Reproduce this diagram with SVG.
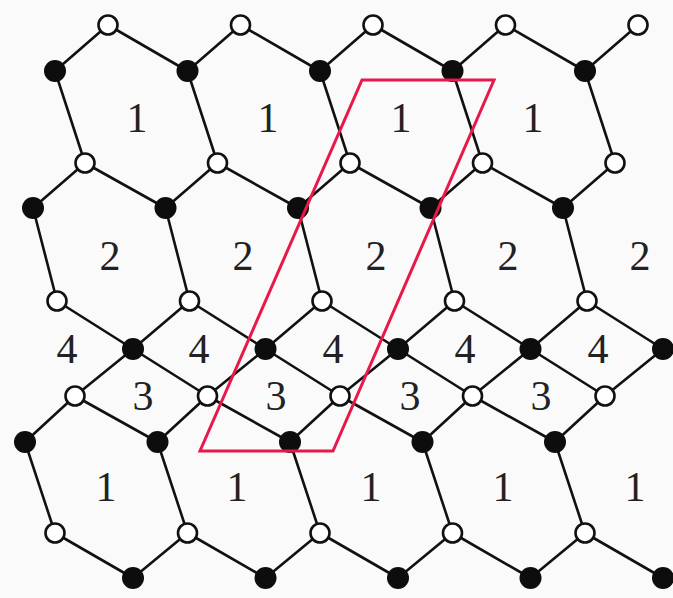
<svg xmlns="http://www.w3.org/2000/svg" width="673" height="598" viewBox="0 0 673 598">
<style>
.e{stroke:#111;stroke-width:2.6;fill:none;stroke-linecap:round}
.b{fill:#0d0d0d}
.w{fill:#fff;stroke:#111;stroke-width:2.6}
.t{font-family:"Liberation Serif","Times New Roman",serif;font-size:42px;fill:#222;text-anchor:middle}
.cell{fill:none;stroke:#e8184a;stroke-width:3;stroke-linejoin:miter}
</style>
<rect width="673" height="598" fill="#fafafa"/>
<g id="connectors" class="e">
<path d="M108 25L55 71M108 25L187.5 71M240.5 25L187.5 71M240.5 25L320 71M373 25L320 71M373 25L452.5 71M505.5 25L452.5 71M505.5 25L585 71M638 25L585 71"/>
<path d="M55 71L85 163M187.5 71L217.5 163M320 71L350 163M452.5 71L482.5 163M585 71L615 163"/>
<path d="M85 163L33 208M85 163L165.5 208M217.5 163L165.5 208M217.5 163L298 208M350 163L298 208M350 163L430.5 208M482.5 163L430.5 208M482.5 163L563 208M615 163L563 208"/>
<path d="M33 208L57 301M165.5 208L189.5 301M298 208L322 301M430.5 208L454.5 301M563 208L587 301"/>
<path d="M57 301L133 349M189.5 301L133 349M189.5 301L265.5 349M322 301L265.5 349M322 301L398 349M454.5 301L398 349M454.5 301L530.5 349M587 301L530.5 349M587 301L663 349"/>
<path d="M133 349L75 396M133 349L207.5 396M265.5 349L207.5 396M265.5 349L340 396M398 349L340 396M398 349L472.5 396M530.5 349L472.5 396M530.5 349L605 396M663 349L605 396"/>
<path d="M75 396L25 442M75 396L157.5 442M207.5 396L157.5 442M207.5 396L290 442M340 396L290 442M340 396L422.5 442M472.5 396L422.5 442M472.5 396L555 442M605 396L555 442"/>
<path d="M25 442L55 533M157.5 442L187.5 533M290 442L320 533M422.5 442L452.5 533M555 442L585 533"/>
<path d="M55 533L133 578M187.5 533L133 578M187.5 533L265.5 578M320 533L265.5 578M320 533L398 578M452.5 533L398 578M452.5 533L530.5 578M585 533L530.5 578M585 533L663 578"/>
</g>
<g id="nodes">
<g id="w0-0"><circle class="w" cx="108" cy="25" r="9.5"/></g>
<g id="w0-1"><circle class="w" cx="240.5" cy="25" r="9.5"/></g>
<g id="w0-2"><circle class="w" cx="373" cy="25" r="9.5"/></g>
<g id="w0-3"><circle class="w" cx="505.5" cy="25" r="9.5"/></g>
<g id="w0-4"><circle class="w" cx="638" cy="25" r="9.5"/></g>
<g id="b1-0"><circle class="b" cx="55" cy="71" r="11"/></g>
<g id="b1-1"><circle class="b" cx="187.5" cy="71" r="11"/></g>
<g id="b1-2"><circle class="b" cx="320" cy="71" r="11"/></g>
<g id="b1-3"><circle class="b" cx="452.5" cy="71" r="11"/></g>
<g id="b1-4"><circle class="b" cx="585" cy="71" r="11"/></g>
<g id="w2-0"><circle class="w" cx="85" cy="163" r="9.5"/></g>
<g id="w2-1"><circle class="w" cx="217.5" cy="163" r="9.5"/></g>
<g id="w2-2"><circle class="w" cx="350" cy="163" r="9.5"/></g>
<g id="w2-3"><circle class="w" cx="482.5" cy="163" r="9.5"/></g>
<g id="w2-4"><circle class="w" cx="615" cy="163" r="9.5"/></g>
<g id="b3-0"><circle class="b" cx="33" cy="208" r="11"/></g>
<g id="b3-1"><circle class="b" cx="165.5" cy="208" r="11"/></g>
<g id="b3-2"><circle class="b" cx="298" cy="208" r="11"/></g>
<g id="b3-3"><circle class="b" cx="430.5" cy="208" r="11"/></g>
<g id="b3-4"><circle class="b" cx="563" cy="208" r="11"/></g>
<g id="w4-0"><circle class="w" cx="57" cy="301" r="9.5"/></g>
<g id="w4-1"><circle class="w" cx="189.5" cy="301" r="9.5"/></g>
<g id="w4-2"><circle class="w" cx="322" cy="301" r="9.5"/></g>
<g id="w4-3"><circle class="w" cx="454.5" cy="301" r="9.5"/></g>
<g id="w4-4"><circle class="w" cx="587" cy="301" r="9.5"/></g>
<g id="b5-0"><circle class="b" cx="133" cy="349" r="11"/></g>
<g id="b5-1"><circle class="b" cx="265.5" cy="349" r="11"/></g>
<g id="b5-2"><circle class="b" cx="398" cy="349" r="11"/></g>
<g id="b5-3"><circle class="b" cx="530.5" cy="349" r="11"/></g>
<g id="b5-4"><circle class="b" cx="663" cy="349" r="11"/></g>
<g id="w6-0"><circle class="w" cx="75" cy="396" r="9.5"/></g>
<g id="w6-1"><circle class="w" cx="207.5" cy="396" r="9.5"/></g>
<g id="w6-2"><circle class="w" cx="340" cy="396" r="9.5"/></g>
<g id="w6-3"><circle class="w" cx="472.5" cy="396" r="9.5"/></g>
<g id="w6-4"><circle class="w" cx="605" cy="396" r="9.5"/></g>
<g id="b7-0"><circle class="b" cx="25" cy="442" r="11"/></g>
<g id="b7-1"><circle class="b" cx="157.5" cy="442" r="11"/></g>
<g id="b7-2"><circle class="b" cx="290" cy="442" r="11"/></g>
<g id="b7-3"><circle class="b" cx="422.5" cy="442" r="11"/></g>
<g id="b7-4"><circle class="b" cx="555" cy="442" r="11"/></g>
<g id="w8-0"><circle class="w" cx="55" cy="533" r="9.5"/></g>
<g id="w8-1"><circle class="w" cx="187.5" cy="533" r="9.5"/></g>
<g id="w8-2"><circle class="w" cx="320" cy="533" r="9.5"/></g>
<g id="w8-3"><circle class="w" cx="452.5" cy="533" r="9.5"/></g>
<g id="w8-4"><circle class="w" cx="585" cy="533" r="9.5"/></g>
<g id="b9-0"><circle class="b" cx="133" cy="578" r="11"/></g>
<g id="b9-1"><circle class="b" cx="265.5" cy="578" r="11"/></g>
<g id="b9-2"><circle class="b" cx="398" cy="578" r="11"/></g>
<g id="b9-3"><circle class="b" cx="530.5" cy="578" r="11"/></g>
<g id="b9-4"><circle class="b" cx="663" cy="578" r="11"/></g>
</g>
<g id="labels" class="t">
<text x="137" y="132">1</text><text x="268" y="132">1</text><text x="401" y="132">1</text><text x="533" y="132">1</text>
<text x="110" y="270">2</text><text x="243" y="270">2</text><text x="376" y="270">2</text><text x="508" y="270">2</text><text x="640" y="270">2</text>
<text x="67" y="363">4</text><text x="199" y="363">4</text><text x="333" y="363">4</text><text x="465" y="363">4</text><text x="598" y="363">4</text>
<text x="143" y="410">3</text><text x="276" y="410">3</text><text x="410" y="410">3</text><text x="541" y="410">3</text>
<text x="106" y="501">1</text><text x="237" y="501">1</text><text x="371" y="501">1</text><text x="503" y="501">1</text><text x="635" y="501">1</text>
</g>
<g id="unit-cell"><polygon class="cell" points="362,80 494,80 333,451 200,451"/></g>
</svg>
